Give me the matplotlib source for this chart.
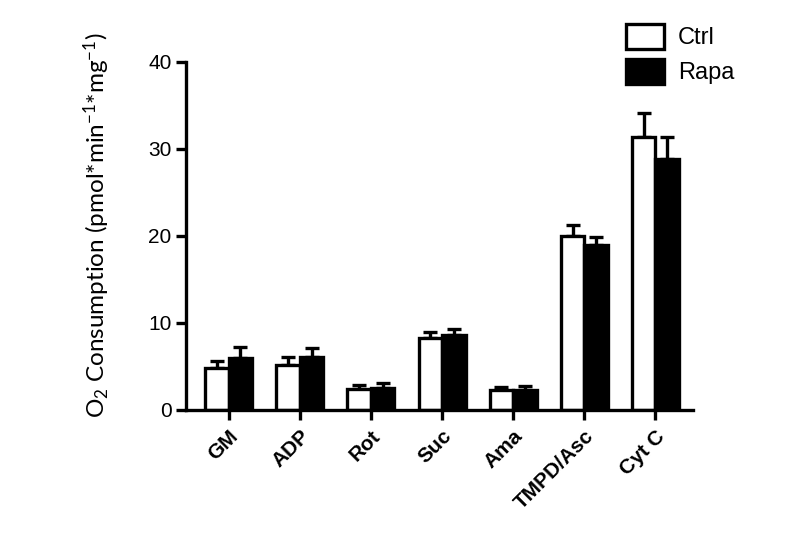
import matplotlib
matplotlib.use("Agg")
import matplotlib.pyplot as plt
from matplotlib.patches import Patch
import numpy as np

plt.rcParams["font.family"] = ["Liberation Sans", "DejaVu Sans"]
plt.rcParams["mathtext.fontset"] = "custom"
plt.rcParams["mathtext.rm"] = "Lato"
plt.rcParams["mathtext.it"] = "Lato:italic"
plt.rcParams["mathtext.bf"] = "Lato:bold"

categories = ["GM", "ADP", "Rot", "Suc", "Ama", "TMPD/Asc", "Cyt C"]
ctrl = [4.8, 5.2, 2.4, 8.3, 2.3, 20.0, 31.4]
ctrl_err = [0.8, 0.9, 0.5, 0.6, 0.3, 1.2, 2.7]
rapa = [6.0, 6.1, 2.5, 8.6, 2.3, 19.0, 28.8]
rapa_err = [1.2, 1.0, 0.6, 0.7, 0.4, 0.9, 2.6]

x = np.arange(len(categories))
w = 0.33
lw = 2.4

fig = plt.figure(figsize=(8.0, 5.57), dpi=100)
ax = fig.add_axes([0.2325, 0.264, 0.634, 0.625])

ax.errorbar(x - w / 2, ctrl, yerr=[np.zeros(len(x)), ctrl_err], fmt="none",
            ecolor="black", elinewidth=lw, capsize=5, capthick=lw, zorder=1)
ax.errorbar(x + w / 2, rapa, yerr=[np.zeros(len(x)), rapa_err], fmt="none",
            ecolor="black", elinewidth=lw, capsize=5, capthick=lw, zorder=1)
ax.bar(x - w / 2, ctrl, width=w, color="white", edgecolor="black",
       linewidth=lw, zorder=2)
ax.bar(x + w / 2, rapa, width=w, color="black", edgecolor="black",
       linewidth=lw, zorder=2)

ax.set_xlim(-0.6, 6.53)
ax.set_ylim(0, 40)
ax.set_yticks([0, 10, 20, 30, 40])
ax.set_xticks(x)
ax.set_xticklabels(categories, rotation=45, ha="right", rotation_mode="anchor",
                   fontsize=15, fontweight="bold")
ax.tick_params(axis="y", labelsize=15, length=7, width=lw, direction="out")
ax.tick_params(axis="x", length=7, width=lw, direction="out", pad=5)
for side in ["top", "right"]:
    ax.spines[side].set_visible(False)
for side in ["left", "bottom"]:
    ax.spines[side].set_linewidth(lw)

ax.set_ylabel(r"O$_2$ Consumption (pmol*min$^{-1}$*mg$^{-1}$)", fontsize=17.5,
              family="Lato")
ax.yaxis.set_label_coords(-0.145, 0.53)

handles = [Patch(facecolor="white", edgecolor="black", linewidth=lw, label="Ctrl"),
           Patch(facecolor="black", edgecolor="black", linewidth=lw, label="Rapa")]
fig.legend(handles=handles, loc="upper left", bbox_to_anchor=(0.756, 0.995),
           frameon=False, fontsize=17, handlelength=1.6, handleheight=1.25,
           handletextpad=0.6, labelspacing=0.4)

fig.savefig("out.png", dpi=100)
